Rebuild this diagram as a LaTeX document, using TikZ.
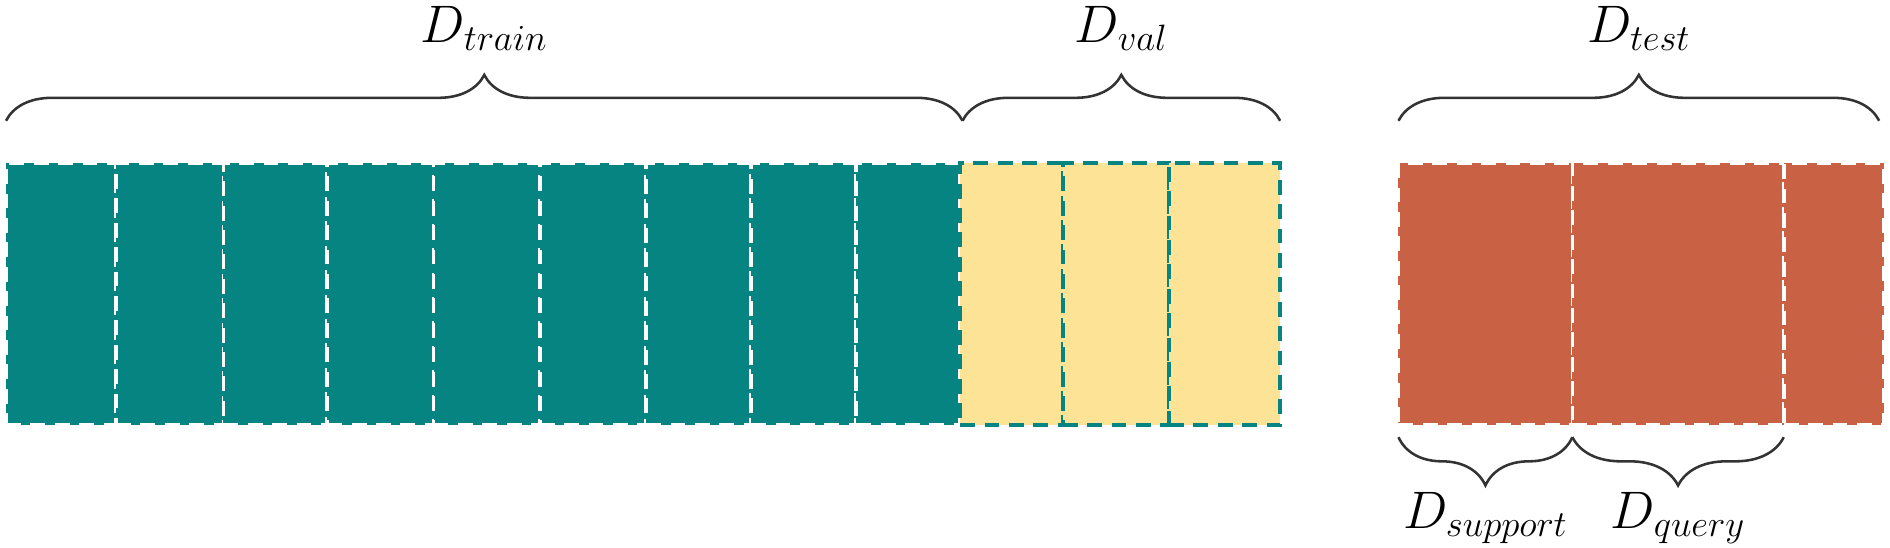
\documentclass[tikz,border=0pt]{standalone}
\usetikzlibrary{decorations.pathreplacing}
\definecolor{tealc}{HTML}{058482}
\definecolor{yelc}{HTML}{FDE395}
\definecolor{redc}{HTML}{C96245}
\definecolor{brc}{HTML}{333333}
\begin{document}
\begin{tikzpicture}[x=0.02cm,y=-0.02cm,
  blk/.style={minimum height=217*0.02cm, inner sep=0pt, line width=1.7pt, dash pattern=on 7pt off 4.5pt},
  tblk/.style={blk, fill=tealc, draw=white},
  yblk/.style={blk, fill=yelc, draw=tealc},
  rblk/.style={blk, fill=redc, draw=white},
  br/.style={draw=brc, line width=1.2pt, decorate, decoration={brace, amplitude=#1}},
  lab/.style={font=\fontsize{25}{30}\selectfont, inner sep=0pt}]
\useasboundingbox (0,0) rectangle (1565,453);
\foreach \a/\b [count=\i] in {5/96,96/185,185/271,271/359,359/447,447/535,535/622,622/709,709/795}
  \node[tblk, minimum width={(\b-\a)*0.02cm}] (t\i) at ({(\a+\b)/2},243.5) {};
\foreach \a/\b [count=\i] in {795/880,880/968,968/1060}
  \node[yblk, minimum width={(\b-\a)*0.02cm}] (y\i) at ({(\a+\b)/2},243.5) {};
\foreach \a/\b [count=\i] in {1158/1302,1302/1477,1477/1560}
  \node[rblk, minimum width={(\b-\a)*0.02cm}] (r\i) at ({(\a+\b)/2},243.5) {};
\coordinate (tr1) at (5,100); \coordinate (tr2) at (797,100);
\coordinate (va2) at (1060,100);
\coordinate (te1) at (1158,100); \coordinate (te2) at (1556,100);
\coordinate (s1) at (1158,362); \coordinate (s2) at (1302,362); \coordinate (q2) at (1477,362);
\draw[br=0.76cm] (tr1) -- (tr2) node[midway, above=1.15cm, lab] (ltr) {$D_{train}$};
\draw[br=0.76cm] (tr2) -- (va2) node[midway, above=1.15cm, lab] (lva) {$D_{val}$};
\draw[br=0.76cm] (te1) -- (te2) node[midway, above=1.15cm, lab] (lte) {$D_{test}$};
\draw[br=0.8cm] (s2) -- (s1) node[midway, below=0.9cm, lab] (lsu) {$D_{support}$};
\draw[br=0.8cm] (q2) -- (s2) node[midway, below=0.9cm, lab] (lqu) {$D_{query}$};
\end{tikzpicture}
\end{document}
